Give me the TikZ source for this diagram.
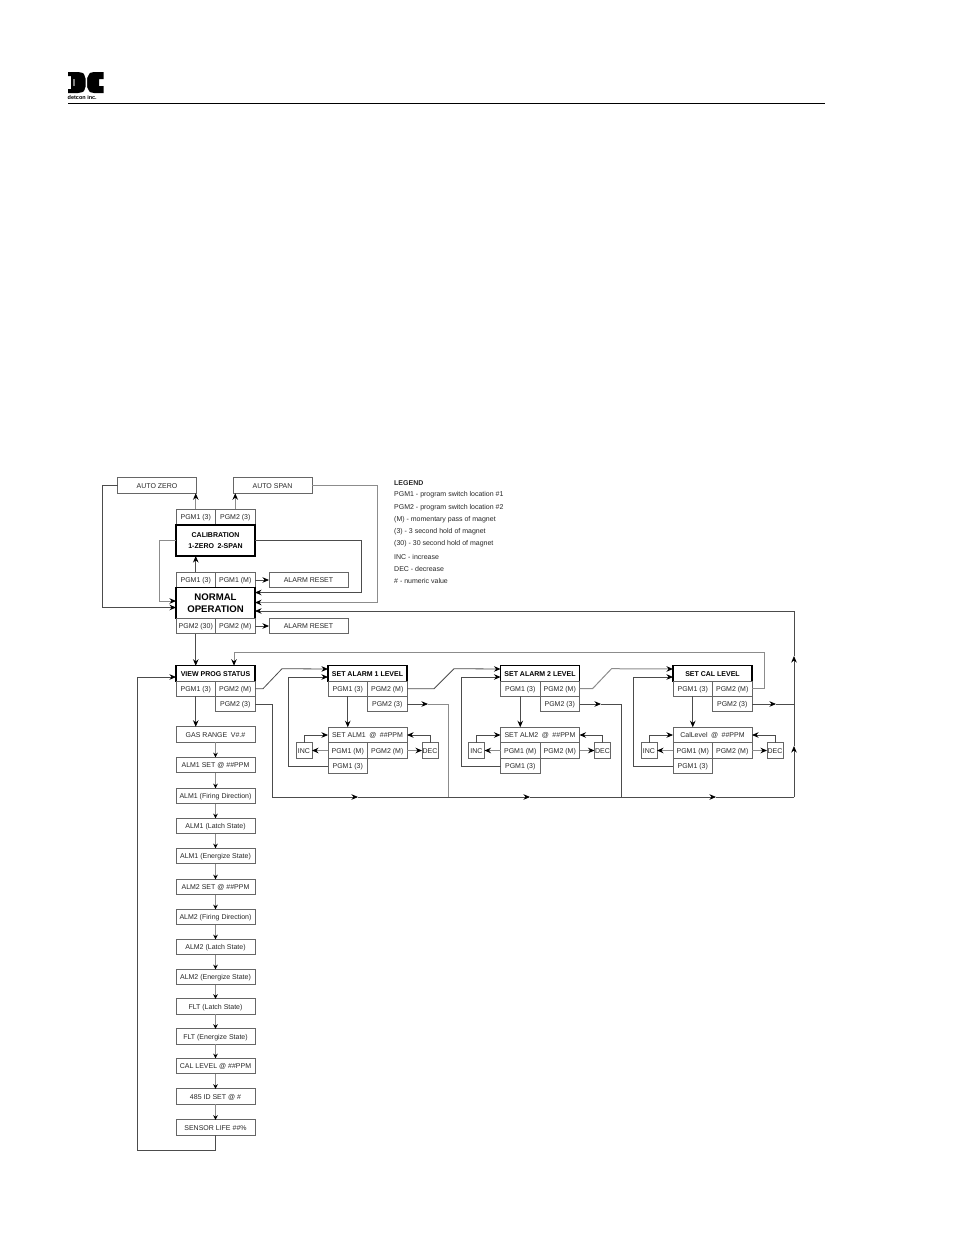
\documentclass[tikz,border=0pt]{standalone}
\usepackage{fontspec}
\setmainfont{Liberation Sans}
\usetikzlibrary{arrows.meta}
\tikzset{
    cell/.style={draw=black!60, line width=0.9pt, inner sep=0pt, outer sep=0pt, text=black!85,
        text height=5pt, text depth=0pt,
        minimum width=39.5pt, minimum height=15.5pt, font=\fontsize{7}{8}\selectfont},
    widecell/.style={cell, minimum width=79pt},
    tinycell/.style={cell, minimum width=16pt},
    titlebox/.style={widecell, draw=black, line width=1.3pt, text=black, font=\fontsize{7}{8}\selectfont\bfseries},
    link/.style={draw=black!70, line width=0.8pt},
    paleline/.style={draw=black!45, line width=1pt},
    smalltip/.style={-{Stealth[length=4.5pt,width=4.5pt,color=black]}},
    legendtext/.style={inner sep=0pt, anchor=west, text=black!85, font=\fontsize{7}{8}\selectfont},
}
\begin{document}
\begin{tikzpicture}[x=1pt, y=-1pt, >={Stealth[length=6.5pt,width=5.5pt,color=black]}]
    \useasboundingbox (0,0) rectangle (954,1235);
    % Letterhead
    \fill[black] (68,72) -- (78,72) .. controls (85,72) and (88,77) .. (88,82.5) .. controls (88,88) and (85,93) .. (78,93)
        -- (68,93) -- (68,89) -- (71,89) -- (71,76) -- (68,76) -- cycle;
    \fill[black] (103.5,72) -- (94,72) .. controls (88,72) and (85,77) .. (85,82.5) .. controls (85,88) and (88,93) .. (94,93)
        -- (103.5,93) -- (103.5,86) -- (99,86) -- (99,79) -- (103.5,79) -- cycle;
    \fill[white] (83.5,72) -- (90,72) -- (87,78) -- (87,87) -- (90,93) -- (83.5,93) -- (85.5,87) -- (85.5,78) -- cycle;
    \fill[black!50] (72.5,79) rectangle (75,86);
    \node[inner sep=0pt, anchor=west, font=\fontsize{5.5}{6}\selectfont\bfseries] (logotext) at (67.5,98) {detcon inc.};
    \coordinate (ruleleft) at (68,103);
    \coordinate (ruleright) at (825,103);
    \draw[line width=1pt] (ruleleft) -- (ruleright);
    % Calibration group
    \node[widecell] (autozero) at (157,485.5) {AUTO ZERO};
    \node[widecell] (autospan) at (272.5,485.5) {AUTO SPAN};
    \node[cell] (calone) at (195.75,517) {PGM1 (3)};
    \node[cell] (caltwo) at (235.25,517) {PGM2 (3)};
    \node[titlebox, minimum height=31pt, align=center, text height=15.7pt, text depth=0pt,
        font=\fontsize{7}{10.7}\selectfont\bfseries] (calib) at (215.5,540.5) {CALIBRATION\\1-ZERO\enspace2-SPAN};
    \node[cell] (holdone) at (195.75,580) {PGM1 (3)};
    \node[cell] (passone) at (235.25,580) {PGM1 (M)};
    \node[widecell] (resetone) at (308.5,580) {ALARM RESET};
    % Normal operation
    \node[titlebox, minimum height=31pt, align=center, text height=19.3pt, text depth=0pt,
        font=\fontsize{9.6}{12.3}\selectfont\bfseries] (normal) at (215.5,603) {NORMAL\\OPERATION};
    \node[cell] (holdtwo) at (195.75,626) {PGM2 (30)};
    \node[cell] (passtwo) at (235.25,626) {PGM2 (M)};
    \node[widecell] (resettwo) at (308.5,626) {ALARM RESET};
    % Legend
    \node[legendtext, font=\fontsize{7}{8}\selectfont\bfseries] (legend) at (394,483) {LEGEND};
    \node[legendtext] (legenda) at (394,495) {PGM1 - program switch location \#1};
    \node[legendtext] (legendb) at (394,508) {PGM2 - program switch location \#2};
    \node[legendtext] (legendc) at (394,520) {(M) - momentary pass of magnet};
    \node[legendtext] (legendd) at (394,532) {(3) - 3 second hold of magnet};
    \node[legendtext] (legende) at (394,544) {(30) - 30 second hold of magnet};
    \node[legendtext] (legendf) at (394,557) {INC - increase};
    \node[legendtext] (legendg) at (394,569) {DEC - decrease};
    \node[legendtext] (legendh) at (394,581) {\# - numeric value};
    % View prog status column
    \node[titlebox] (view) at (215.5,673.5) {VIEW PROG STATUS};
    \node[cell] (viewone) at (195.75,688.7) {PGM1 (3)};
    \node[cell] (viewpass) at (235.25,688.7) {PGM2 (M)};
    \node[cell] (viewhold) at (235.25,704) {PGM2 (3)};
    \node[widecell] (status0) at (215.5,734.5) {GAS RANGE\enspace V\#.\#};
    \foreach \n/\ypos/\txt [remember=\n as \last (initially 0)] in {
        1/765/ALM1 SET @ \#\#PPM,
        2/796/ALM1 (Firing Direction),
        3/826/ALM1 (Latch State),
        4/856/ALM1 (Energize State),
        5/887/ALM2 SET @ \#\#PPM,
        6/917/ALM2 (Firing Direction),
        7/947/ALM2 (Latch State),
        8/977/ALM2 (Energize State),
        9/1006.5/FLT (Latch State),
        10/1036.5/FLT (Energize State),
        11/1066/CAL LEVEL @ \#\#PPM,
        12/1096.5/485 ID SET @ \#,
        13/1127.5/SENSOR LIFE \#\#\%} {
        \node[widecell] (status\n) at (215.5,\ypos) {\txt};
        \draw[paleline, smalltip] (status\last) -- (status\n);
    }
    % Set level columns
    \foreach \n/\xpos/\head/\sub in {
        a/328/SET ALARM 1 LEVEL/SET ALM1\enspace @\enspace\#\#PPM,
        b/500.5/SET ALARM 2 LEVEL/SET ALM2\enspace @\enspace\#\#PPM,
        c/673/SET CAL LEVEL/CalLevel\enspace @\enspace\#\#PPM} {
        \node[titlebox] (title\n) at (\xpos+39.5,673.5) {\head};
        \node[cell] (one\n) at (\xpos+19.75,688.7) {PGM1 (3)};
        \node[cell] (pass\n) at (\xpos+59.25,688.7) {PGM2 (M)};
        \node[cell] (hold\n) at (\xpos+59.25,704) {PGM2 (3)};
        \node[widecell] (sub\n) at (\xpos+39.5,735) {\sub};
        \node[cell] (subone\n) at (\xpos+19.75,750.5) {PGM1 (M)};
        \node[cell] (subtwo\n) at (\xpos+59.25,750.5) {PGM2 (M)};
        \node[cell] (back\n) at (\xpos+19.75,766) {PGM1 (3)};
        \node[tinycell] (inc\n) at (\xpos-24,750.5) {INC};
        \node[tinycell] (dec\n) at (\xpos+102,750.5) {DEC};
        \draw[link, ->] (one\n.south) -- (sub\n.north -| one\n);
        \draw[paleline, ->] (subone\n) -- (inc\n);
        \draw[paleline, ->] (subtwo\n) -- (dec\n);
        \draw[link, ->] (inc\n) |- (sub\n);
        \draw[link, ->] (dec\n) |- (sub\n);
        \draw[link, ->] (back\n.west) -- ++(-39.5,0) |- ([yshift=-3.5pt]title\n.west);
    }
    % Bus and return lines
    \coordinate (busstart) at (272,797);
    \coordinate (busa) at (358,797);
    \coordinate (busb) at (530,797);
    \coordinate (busc) at (716,797);
    \coordinate (busend) at (794,797);
    \coordinate (upa) at (794,746);
    \coordinate (upb) at (794,656);
    \coordinate (corner) at (794,611);
    \coordinate (dropa) at (448,797);
    \coordinate (dropb) at (621,797);
    \coordinate (tipa) at (428,704);
    \coordinate (tipb) at (601,704);
    \coordinate (tipc) at (776,704);
    \coordinate (overtop) at (764,652);
    % Calibration connectors
    \draw[paleline, ->] (calone) -- (calone |- autozero.south);
    \draw[paleline, ->] (caltwo) -- (caltwo |- autospan.south);
    \draw[link, ->] (holdone) -- (holdone |- calib.south);
    \draw[link, ->] (passone) -- (resetone);
    \draw[link, ->] (passtwo) -- (resettwo);
    \draw[link, ->] (holdtwo) -- (holdtwo |- view.north);
    \draw[paleline, ->] (calib.west) -- ++(-17,0) |- ([yshift=2pt]normal.west);
    \draw[link, ->] (autozero.west) -- ++(-15,0) |- ([yshift=-4.5pt]normal.west);
    \draw[link, ->] (calib.east) -- ++(106,0) |- ([yshift=10.5pt]normal.east);
    \draw[paleline, ->] (autospan.east) -- ++(65,0) |- ([yshift=0.5pt]normal.east);
    \draw[link, ->] (corner) -- (normal.east |- corner);
    % View connectors
    \draw[link, ->] (viewone) -- (status0.north -| viewone);
    \draw[link, ->] (status13.south) -- ++(0,15) -- ++(-78,0) |- ([yshift=-3.5pt]view.west);
    \draw[link, ->] (viewpass.east) -- ++(8,0) -- ++(19,-20) -- ([yshift=4.5pt]titlea.west);
    \draw[link, ->] (passa.east) -- ++(27,0) -- ++(20,-20) -- ([yshift=4.5pt]titleb.west);
    \draw[paleline, ->] (passb.east) -- ++(13,0) -- ++(19,-20) -- ([yshift=4.5pt]titlec.west);
    \draw[paleline, ->] (passc.east) -| (overtop) -| ([xshift=18.5pt]view.north);
    % Lower bus
    \draw[link] (viewhold.east) -| (busstart);
    \draw[link, ->] (busstart) -- (busa);
    \draw[link, ->] (busa) -- (busb);
    \draw[link, ->] (busb) -- (busc);
    \draw[link] (busc) -- (busend);
    \draw[link, ->] (busend) -- (upa);
    \draw[link, ->] (upa) -- (upb);
    \draw[link] (upb) -- (corner);
    \draw[link, ->] (holda.east) -- (tipa);
    \draw[paleline] (tipa) -| (dropa);
    \draw[link, ->] (holdb.east) -- (tipb);
    \draw[link] (tipb) -| (dropb);
    \draw[link, ->] (holdc.east) -- (tipc);
    \draw[link] (tipc) -- (tipc -| busend);
\end{tikzpicture}
\end{document}
